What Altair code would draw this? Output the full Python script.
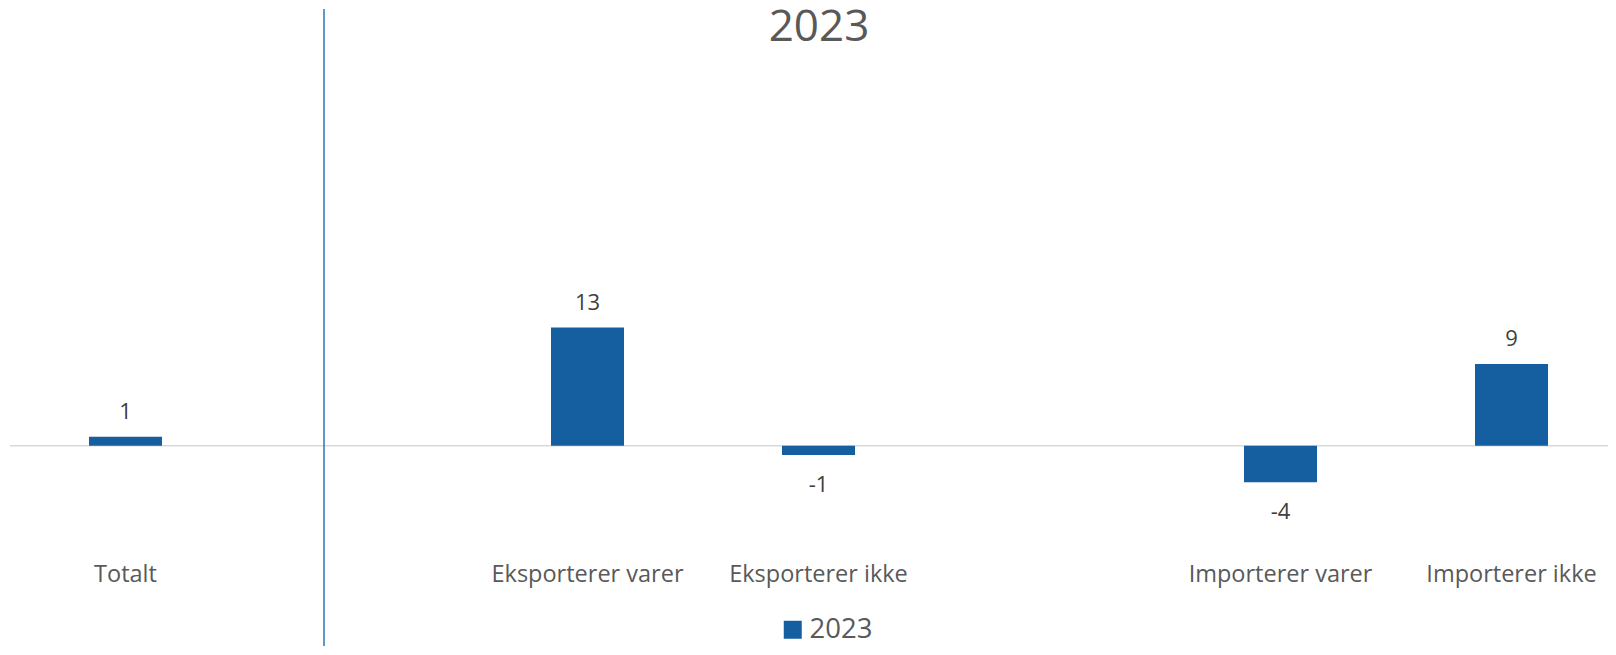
import altair as alt
import pandas as pd

# slots on the category axis (the two "_gap" slots are empty spacers)
categories = ["Totalt", "_gap1", "Eksporterer varer", "Eksporterer ikke",
              "_gap2", "Importerer varer", "Importerer ikke"]
bar_categories = ["Totalt", "Eksporterer varer", "Eksporterer ikke",
                  "Importerer varer", "Importerer ikke"]
values = [1, 13, -1, -4, 9]
series_name = "2023"

df = pd.DataFrame({"Kategori": bar_categories, "Verdi": values,
                   "Serie": [series_name] * len(values)})
zero_df = pd.DataFrame({"z": [0]})

W = 1598
H = 536
PAD_TOP = 1
PAD_BOTTOM = 101
Y_DOMAIN = [-10.9, 48.0]
FONT = "Open Sans"
BAR = "#155EA0"

y_scale = alt.Scale(domain=Y_DOMAIN, nice=False, zero=False)

x_enc = alt.X(
    "Kategori:N",
    sort=categories,
    scale=alt.Scale(domain=categories, range=[0, 1617], paddingInner=0, paddingOuter=0),
    axis=alt.Axis(
        title=None, ticks=False, domain=False, labelAngle=0, labelLimit=400,
        labelExpr="indexof(datum.value, '_') == 0 ? '' : datum.value",
        labelFontSize=23.5, labelColor="#595959", labelFont=FONT,
        labelPadding=17,
    ),
)
y_enc = alt.Y("Verdi:Q", scale=y_scale, axis=None)

zero_rule = alt.Chart(zero_df).mark_rule(color="#d9d9d9", strokeWidth=1.5).encode(
    y=alt.Y("z:Q", scale=y_scale, axis=None)
)

bars = alt.Chart(df).mark_bar(width=73).encode(
    x=x_enc,
    y=y_enc,
    color=alt.Color(
        "Serie:N",
        scale=alt.Scale(range=[BAR]),
        legend=alt.Legend(
            title=None, orient="none", legendX=769, legendY=607,
            symbolType="square", symbolSize=324, symbolStrokeWidth=0,
            labelFontSize=27.5, labelColor="#595959", labelFont=FONT, labelOffset=3,
        ),
    ),
)

base_text = alt.Chart(df).transform_calculate(lbl="toString(datum.Verdi)")

pos_labels = base_text.transform_filter("datum.Verdi >= 0").mark_text(
    dy=-25, baseline="middle", fontSize=22, color="#404040", font=FONT
).encode(x=x_enc, y=y_enc, text="lbl:N")

neg_labels = base_text.transform_filter("datum.Verdi < 0").mark_text(
    dy=30, baseline="middle", fontSize=22, color="#404040", font=FONT
).encode(x=x_enc, y=y_enc, text="lbl:N")

divider = alt.Chart(zero_df).mark_rule(color="#2E75B6", strokeWidth=1.5).encode(
    x=alt.value(314), y=alt.value(0), y2=alt.value(H + PAD_BOTTOM)
)

chart = alt.layer(zero_rule, bars, pos_labels, neg_labels, divider).properties(
    width=W, height=H,
    title=alt.TitleParams(series_name, fontSize=44, color="#595959", font=FONT,
                          fontWeight="normal", anchor="middle", offset=-42, dx=10),
    padding={"left": 2, "top": PAD_TOP, "right": 0, "bottom": PAD_BOTTOM},
    autosize=alt.AutoSizeParams(type="none"),
).configure_view(stroke=None)

chart.save("out.html", embed_options={"renderer": "svg", "actions": False})
